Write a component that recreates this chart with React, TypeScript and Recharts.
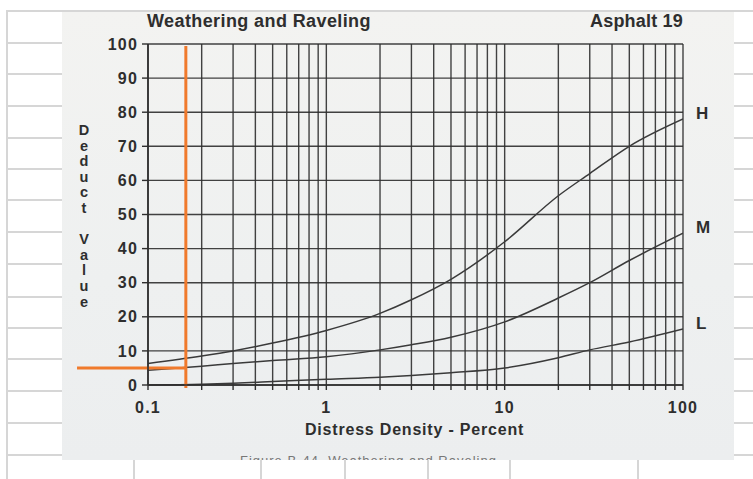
import { LineChart, Line, XAxis, YAxis, CartesianGrid, ReferenceLine, Label } from 'recharts';

// Distress density (percent) at which the curves were read
const density = [0.1, 0.2, 0.3, 0.5, 1, 2, 3, 5, 10, 20, 30, 50, 100];
// Deduct values per severity level
const high = [6.3, 8.5, 10, 12.3, 16, 21, 25, 31, 42, 55.5, 62, 70, 78];
const medium = [4.3, 5.5, 6.3, 7.2, 8.3, 10.3, 11.8, 14, 18.5, 25.5, 30, 36.5, 44.5];
const low = [0, 0.2, 0.5, 1, 1.7, 2.3, 2.8, 3.6, 5, 8, 10.3, 12.6, 16.4];

const xTicks = [
  0.1, 0.2, 0.3, 0.4, 0.5, 0.6, 0.7, 0.8, 0.9,
  1, 2, 3, 4, 5, 6, 7, 8, 9,
  10, 20, 30, 40, 50, 60, 70, 80, 90,
  100,
];
const xLabels = [0.1, 1, 10, 100];
const yTicks = [0, 10, 20, 30, 40, 50, 60, 70, 80, 90, 100];

// orange read-off lines
const cursorDensity = 0.163;
const cursorDeduct = 5;
const cursorFrom = 0.04;

const data = density.map((d, i) => ({ density: d, H: high[i], M: medium[i], L: low[i] }));

// spreadsheet cell borders behind the scanned chart
const rowLines = [10, 42, 73, 105, 137, 168, 199, 231, 263, 296, 327, 358, 390, 422, 454];
const colLines = [6, 133, 260, 344, 427, 509, 637];

const INK = '#2e2e2e';
const FONT = '"Liberation Sans", Arial, sans-serif';
const tickStyle = { fill: INK, fontSize: 16, fontWeight: 'bold', fontFamily: FONT, letterSpacing: 1.2 };

function endLabel(name: string) {
  // eslint-disable-next-line @typescript-eslint/no-explicit-any
  return (props: any) => {
    if (props.index !== density.length - 1) return null;
    return (
      <text
        key={name}
        x={props.x + 13}
        y={props.y - 6}
        dy="0.35em"
        fill={INK}
        fontSize={17}
        fontWeight="bold"
        fontFamily={FONT}
      >
        {name}
      </text>
    );
  };
}

// eslint-disable-next-line @typescript-eslint/no-explicit-any
function StackedLabel({ viewBox }: any) {
  const chars = 'Deduct Value'.split('');
  return (
    <text fill={INK} fontSize={14.5} fontWeight="bold" fontFamily={FONT} textAnchor="middle">
      {chars.map((c, i) => (
        <tspan key={i} x={viewBox.x - 14} y={viewBox.y + 91 + i * 15.6}>
          {c === ' ' ? '\u00a0' : c}
        </tspan>
      ))}
    </text>
  );
}

export default function App() {
  return (
    <div style={{ position: 'fixed', left: 0, top: 0, width: 753, height: 479, background: '#fff', overflow: 'hidden' }}>
      {rowLines.map((y) => (
        <div key={'r' + y} style={{ position: 'absolute', left: 6, right: 0, top: y, height: 2, background: '#d6d6d6' }} />
      ))}
      {colLines.map((x) => (
        <div key={'c' + x} style={{ position: 'absolute', left: x, top: 10, bottom: 0, width: 2, background: '#d6d6d6' }} />
      ))}

      {/* scanned page */}
      <div
        style={{
          position: 'absolute',
          left: 62,
          top: 12,
          width: 672,
          height: 448,
          background: 'linear-gradient(180deg, #f3f3f1 0%, #eef0f0 60%, #eceeef 100%)',
          overflow: 'hidden',
          fontFamily: FONT,
          fontWeight: 'bold',
          color: INK,
        }}
      >
        <div style={{ position: 'absolute', left: 85, top: 0, fontSize: 18, lineHeight: '18px', letterSpacing: 0.4 }}>
          Weathering and Raveling
        </div>
        <div style={{ position: 'absolute', right: 51, top: 0, fontSize: 18, lineHeight: '18px', letterSpacing: 0.2 }}>
          Asphalt 19
        </div>
        <div style={{ position: 'absolute', left: 243, top: 409, fontSize: 16, lineHeight: '18px', letterSpacing: 0.8 }}>
          Distress Density - Percent
        </div>
        <div style={{ position: 'absolute', left: 178, top: 441, fontSize: 13, lineHeight: '15px', letterSpacing: 1, color: '#777', fontWeight: 'normal' }}>
          Figure B-44. Weathering and Raveling
        </div>
      </div>

      <LineChart
        width={753}
        height={479}
        data={data}
        margin={{ top: 44, right: 70, bottom: 64, left: 98 }}
        style={{ position: 'absolute', left: 0, top: 0 }}
      >
        <CartesianGrid stroke={INK} strokeWidth={1.4} strokeOpacity={0.9} />
        <XAxis
          dataKey="density"
          type="number"
          scale="log"
          domain={[0.1, 100]}
          ticks={xTicks}
          interval={0}
          allowDataOverflow
          height={30}
          tickSize={5}
          tickMargin={12}
          axisLine={{ stroke: INK, strokeWidth: 1.6 }}
          tickLine={{ stroke: INK, strokeWidth: 1.4 }}
          tickFormatter={(v: number) => (xLabels.includes(v) ? String(v) : '')}
          tick={tickStyle}
        />
        <YAxis
          type="number"
          domain={[0, 100]}
          ticks={yTicks}
          interval={0}
          width={50}
          tickSize={6}
          tickMargin={4}
          axisLine={{ stroke: INK, strokeWidth: 1.6 }}
          tickLine={{ stroke: INK, strokeWidth: 1.4 }}
          tick={tickStyle}
        >
          <Label content={<StackedLabel />} />
        </YAxis>
        <Line
          dataKey="H"
          type="monotone"
          stroke="#3a3a3a"
          strokeWidth={1.5}
          dot={false}
          isAnimationActive={false}
          label={endLabel('H')}
        />
        <Line
          dataKey="M"
          type="monotone"
          stroke="#3a3a3a"
          strokeWidth={1.5}
          dot={false}
          isAnimationActive={false}
          label={endLabel('M')}
        />
        <Line
          dataKey="L"
          type="monotone"
          stroke="#3a3a3a"
          strokeWidth={1.5}
          dot={false}
          isAnimationActive={false}
          label={endLabel('L')}
        />
        <ReferenceLine
          segment={[{ x: cursorDensity, y: 99.4 }, { x: cursorDensity, y: -0.9 }]}
          stroke="#f07a2c"
          strokeWidth={3}
          ifOverflow="visible"
        />
        <ReferenceLine
          segment={[{ x: cursorFrom, y: cursorDeduct }, { x: cursorDensity, y: cursorDeduct }]}
          stroke="#f07a2c"
          strokeWidth={3}
          ifOverflow="visible"
        />
      </LineChart>
    </div>
  );
}
